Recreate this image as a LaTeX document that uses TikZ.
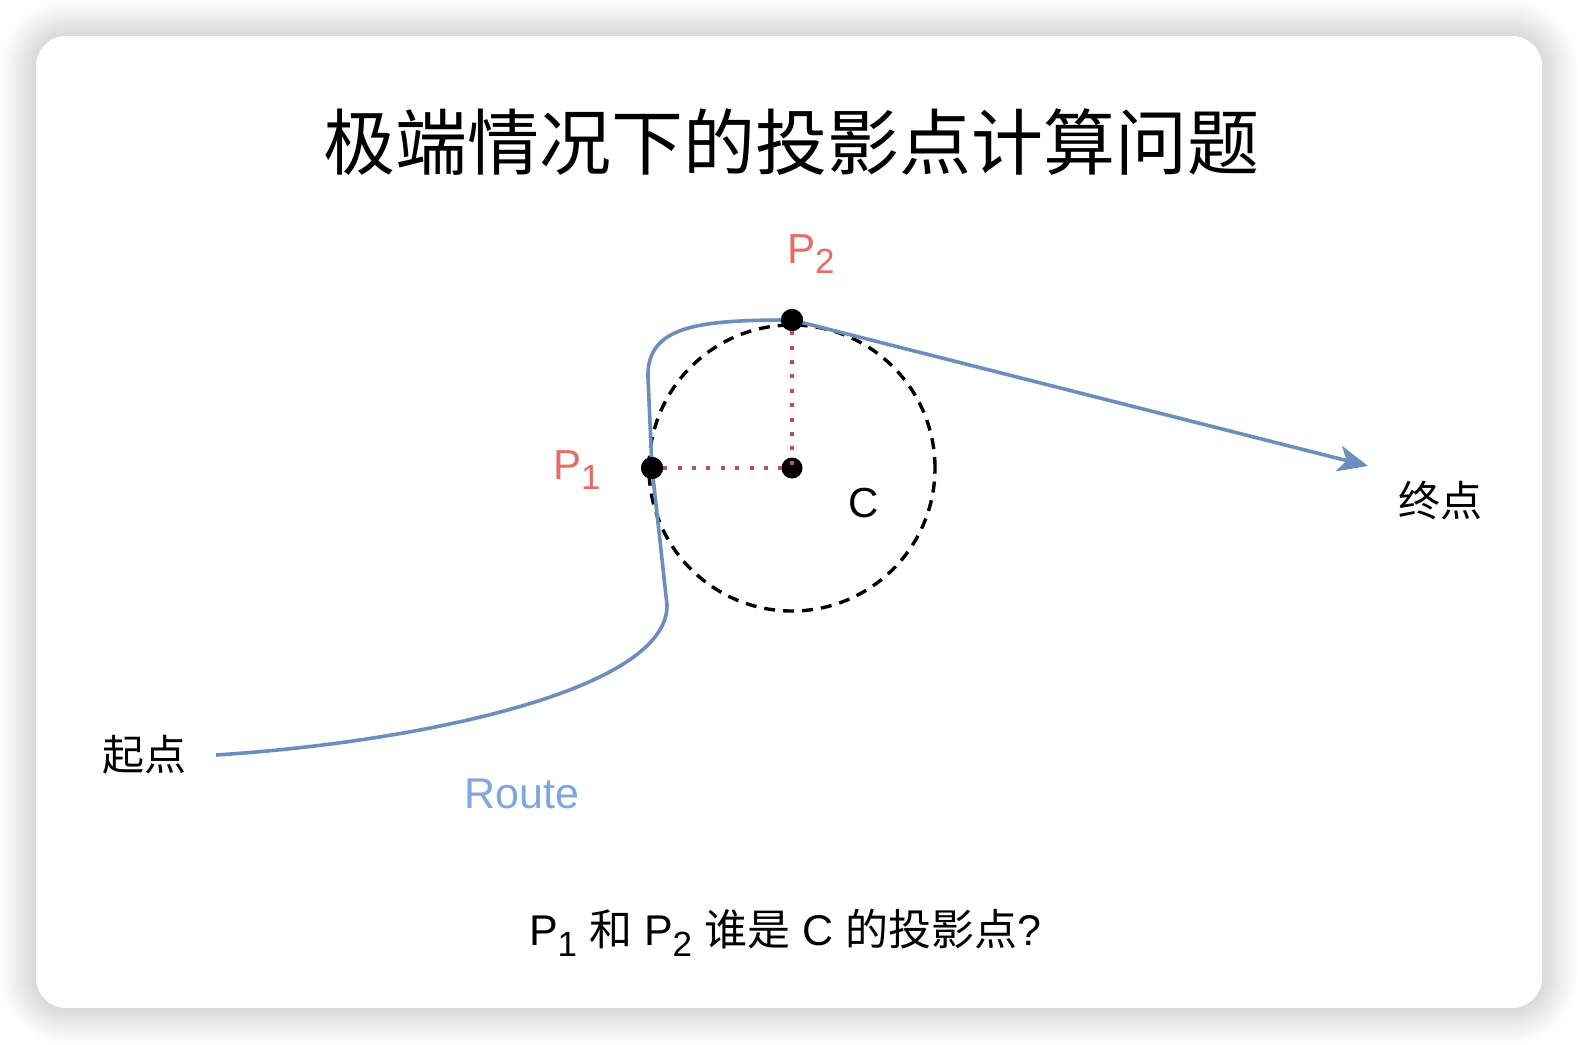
\documentclass[tikz,border=0pt]{standalone}
\usepackage{fontspec}
\setmainfont{Liberation Sans}
\newfontfamily\cjk[Scale=1.0]{Noto Sans CJK SC}
\usetikzlibrary{arrows.meta,shadows.blur}
\definecolor{routeblue}{HTML}{6C8EBF}
\definecolor{routetext}{HTML}{7EA6E0}
\definecolor{plabel}{HTML}{EA6B66}
\definecolor{dotred}{HTML}{B85450}
\newcommand\lowsub[1]{\raisebox{-0.26em}{\fontsize{35}{35}\selectfont #1}}
\begin{document}
\begin{tikzpicture}[x=1pt,y=-1pt,
  txt/.style={inner sep=0pt,font=\fontsize{42}{50}\selectfont},
  ptdot/.style={circle,fill=black,inner sep=0pt,minimum size=22pt},
  routeline/.style={draw=routeblue,line width=3.6pt,line join=round,
    -{Stealth[length=30pt,width=26pt,inset=8pt]}},
  guide/.style={draw=dotred,line width=4pt,dash pattern=on 4pt off 10.4pt},
  ring/.style={draw=black,line width=3.4pt,dash pattern=on 11pt off 8pt}]
\useasboundingbox (0,0) rectangle (1578,1044);
\path[fill=white,rounded corners=30pt,
  blur shadow={shadow xshift=0pt,shadow yshift=0pt,shadow blur radius=36pt,shadow opacity=30,shadow blur steps=30}]
  (36,36) rectangle (1542,1008);

\node[inner sep=0pt,anchor=base,font=\fontsize{72}{80}\selectfont\cjk] (title) at (791,169) {极端情况下的投影点计算问题};

\coordinate (C) at (792,468);
\coordinate (startpt) at (216,755);
\coordinate (endpt) at (1368,466);
\node[ring,circle,minimum size=286pt,inner sep=0pt] (circ) at (C) {};

\node[ptdot] (p1dot) at (652,468) {};
\node[ptdot] (p2dot) at (792,320) {};
\node[ptdot,minimum size=21pt] (cdot) at (C) {};

\draw[routeline] (startpt) .. controls (420,742) and (668,690) .. (667,605)
  -- (p1dot.center) -- (648,378) .. controls (646,325) and (700,320) .. (p2dot.center)
  -- (endpt);

\draw[guide] (p1dot) -- (cdot.center);
\draw[guide] (p2dot) -- (cdot.center);
\node[ptdot] at (p1dot) {};
\node[ptdot] at (p2dot) {};

\node[txt,anchor=base west,text=plabel] (p2lab) at (787,263) {P\lowsub{2}};
\node[txt,anchor=base west,text=plabel] (p1lab) at (553,479) {P\lowsub{1}};
\node[txt,anchor=base] (clab) at (864,517) {C};
\node[txt,anchor=base] (endlab) at (1440,516) {\cjk 终点};
\node[txt,anchor=base] (startlab) at (144,770) {\cjk 起点};
\node[txt,anchor=base,text=routetext,font=\fontsize{43}{50}\selectfont] (routelab) at (522,808) {Route};
\node[txt,anchor=base,font=\fontsize{43}{50}\selectfont] (question) at (785,945) {P\lowsub{1} {\cjk 和} P\lowsub{2} {\cjk 谁是} C {\cjk 的投影点}?};
\end{tikzpicture}
\end{document}
